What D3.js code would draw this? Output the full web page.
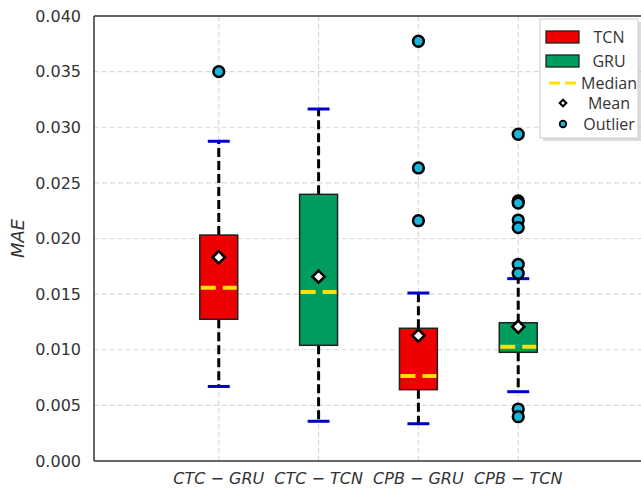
<!DOCTYPE html>
<html>
<head>
<meta charset="utf-8">
<script src="https://cdn.jsdelivr.net/npm/d3@7"></script>
<style>
  body { margin: 0; background: #fff; }
  svg { font-family: 'DejaVu Sans', sans-serif; }
</style>
</head>
<body>
<svg width="641" height="489"></svg>
<script>
// box statistics
const groups = [['CTC', 'GRU'], ['CTC', 'TCN'], ['CPB', 'GRU'], ['CPB', 'TCN']]
const boxModel = ['TCN', 'GRU', 'TCN', 'GRU']
const whiskerLow = [0.0067, 0.00357, 0.00335, 0.00623]
const q1 = [0.01274, 0.0104, 0.00641, 0.00977]
const medians = [0.01558, 0.01519, 0.00764, 0.01027]
const means = [0.01831, 0.01657, 0.01127, 0.01207]
const q3 = [0.02031, 0.02397, 0.01193, 0.01243]
const whiskerHigh = [0.02874, 0.03164, 0.0151, 0.01639]
const outliers = [
  [0.035],
  [],
  [0.03773, 0.02634, 0.0216],
  [0.02937, 0.02337, 0.02318, 0.02166, 0.02098, 0.01768, 0.01687, 0.00467, 0.00398]
]
const yTicks = [0, 0.005, 0.01, 0.015, 0.02, 0.025, 0.03, 0.035, 0.04]
const legendItems = ['TCN', 'GRU', 'Median', 'Mean', 'Outlier']

const colors = { TCN: '#ee0000', GRU: '#009e5e' }
const outlierFill = '#1db4dc'
const capColor = '#0000cc'
const medianColor = '#ffe000'

const svg = d3.select('svg')
const margin = { left: 94, top: 16, right: 643, bottom: 461 }

const x = d3.scaleLinear().domain([-0.25, 5.25]).range([margin.left, margin.right])
const y = d3.scaleLinear().domain([0, 0.04]).range([margin.bottom, margin.top])
const boxW = x(0.38) - x(0)
const capW = x(0.22) - x(0)

// grid
const grid = svg.append('g')
grid.selectAll('.hg').data(yTicks.slice(1, -1)).enter().append('line')
  .attr('x1', margin.left).attr('x2', margin.right)
  .attr('y1', d => y(d)).attr('y2', d => y(d))
  .attr('stroke', '#d9d9d9').attr('stroke-width', 1.2)
  .attr('stroke-dasharray', '5,3')
grid.selectAll('.vg').data(groups).enter().append('line')
  .attr('x1', (d, i) => x(i + 1)).attr('x2', (d, i) => x(i + 1))
  .attr('y1', margin.top).attr('y2', margin.bottom)
  .attr('stroke', '#d9d9d9').attr('stroke-width', 1.2)
  .attr('stroke-dasharray', '5,3')

// boxes
const g = svg.append('g')
groups.forEach(function (grp, i) {
  const cx = x(i + 1)
  // whiskers
  g.append('line').attr('x1', cx).attr('x2', cx)
    .attr('y1', y(q3[i])).attr('y2', y(whiskerHigh[i]))
    .attr('stroke', 'black').attr('stroke-width', 3).attr('stroke-dasharray', '9,4')
  g.append('line').attr('x1', cx).attr('x2', cx)
    .attr('y1', y(q1[i])).attr('y2', y(whiskerLow[i]))
    .attr('stroke', 'black').attr('stroke-width', 3).attr('stroke-dasharray', '9,4')
  // caps
  ;[whiskerLow[i], whiskerHigh[i]].forEach(function (v) {
    g.append('line').attr('x1', cx - capW / 2).attr('x2', cx + capW / 2)
      .attr('y1', y(v)).attr('y2', y(v))
      .attr('stroke', capColor).attr('stroke-width', 3)
  })
  // box
  g.append('rect')
    .attr('x', cx - boxW / 2).attr('width', boxW)
    .attr('y', y(q3[i])).attr('height', y(q1[i]) - y(q3[i]))
    .attr('fill', colors[boxModel[i]])
    .attr('stroke', '#222').attr('stroke-width', 1.5)
  // median
  g.append('line').attr('x1', cx - boxW / 2 + 1).attr('x2', cx + boxW / 2 - 1)
    .attr('y1', y(medians[i])).attr('y2', y(medians[i]))
    .attr('stroke', medianColor).attr('stroke-width', 4).attr('stroke-dasharray', '15,7')
  // mean
  g.append('path')
    .attr('d', d3.symbol(d3.symbolDiamond2, 95)())
    .attr('transform', 'translate(' + cx + ',' + y(means[i]) + ')')
    .attr('fill', 'white').attr('stroke', 'black').attr('stroke-width', 2.6)
  // outliers
  outliers[i].forEach(function (v) {
    g.append('circle').attr('cx', cx).attr('cy', y(v)).attr('r', 5.4)
      .attr('fill', outlierFill).attr('stroke', 'black').attr('stroke-width', 2.5)
  })
})

// spines
svg.append('line').attr('x1', margin.left).attr('x2', margin.left)
  .attr('y1', margin.top).attr('y2', margin.bottom).attr('stroke', '#333').attr('stroke-width', 1.5)
svg.append('line').attr('x1', margin.left).attr('x2', margin.right)
  .attr('y1', margin.bottom).attr('y2', margin.bottom).attr('stroke', '#333').attr('stroke-width', 1.5)
svg.append('line').attr('x1', margin.left).attr('x2', margin.right)
  .attr('y1', margin.top).attr('y2', margin.top).attr('stroke', '#333').attr('stroke-width', 1.5)

// y axis
const yAxis = svg.append('g')
  .attr('transform', 'translate(' + margin.left + ',0)')
  .call(d3.axisLeft(y).tickValues(yTicks).tickFormat(d3.format('.3f')).tickSize(0).tickPadding(13))
yAxis.select('.domain').remove()
yAxis.selectAll('text').attr('font-size', 16).attr('fill', '#333')
  .attr('font-family', "'DejaVu Sans', sans-serif")

// x labels
const xl = svg.append('g')
groups.forEach(function (grp, i) {
  const t = xl.append('text').attr('x', x(i + 1)).attr('y', 484)
    .attr('text-anchor', 'middle').attr('font-size', 16).attr('fill', '#333')
  t.append('tspan').attr('font-style', 'italic').text(grp[0])
  t.append('tspan').text(' \u2212 ')
  t.append('tspan').attr('font-style', 'italic').text(grp[1])
})

// y label
svg.append('text')
  .attr('transform', 'translate(24,' + ((margin.top + margin.bottom) / 2) + ') rotate(-90)')
  .attr('text-anchor', 'middle').attr('font-size', 18).attr('font-style', 'italic')
  .attr('fill', '#333').text('MAE')

// legend
const lg = svg.append('g')
lg.append('rect').attr('x', 543).attr('y', 22).attr('width', 98).attr('height', 119)
  .attr('fill', '#bbb').attr('opacity', 0.5)
lg.append('rect').attr('x', 540).attr('y', 19).attr('width', 98).attr('height', 119)
  .attr('fill', 'white').attr('stroke', '#ccc').attr('stroke-width', 1)
const legendY = [37, 61, 83, 103, 124]
legendItems.forEach(function (name, i) {
  const ly = legendY[i]
  if (i < 2) {
    lg.append('rect').attr('x', 546).attr('y', ly - 6).attr('width', 33).attr('height', 12)
      .attr('fill', colors[name]).attr('stroke', '#222').attr('stroke-width', 1.3)
  } else if (name === 'Median') {
    lg.append('line').attr('x1', 549).attr('x2', 578).attr('y1', ly).attr('y2', ly)
      .attr('stroke', medianColor).attr('stroke-width', 3).attr('stroke-dasharray', '11,5')
  } else if (name === 'Mean') {
    lg.append('path').attr('d', d3.symbol(d3.symbolDiamond2, 28)())
      .attr('transform', 'translate(563,' + ly + ')')
      .attr('fill', 'white').attr('stroke', 'black').attr('stroke-width', 2)
  } else {
    lg.append('circle').attr('cx', 563).attr('cy', ly).attr('r', 3.3)
      .attr('fill', outlierFill).attr('stroke', 'black').attr('stroke-width', 1.8)
  }
  lg.append('text').attr('x', 609).attr('y', ly + 5.5).attr('text-anchor', 'middle')
    .attr('font-size', 16).attr('fill', '#333')
    .attr('font-family', "'Open Sans', 'DejaVu Sans', sans-serif").text(name)
})
</script>
</body>
</html>
